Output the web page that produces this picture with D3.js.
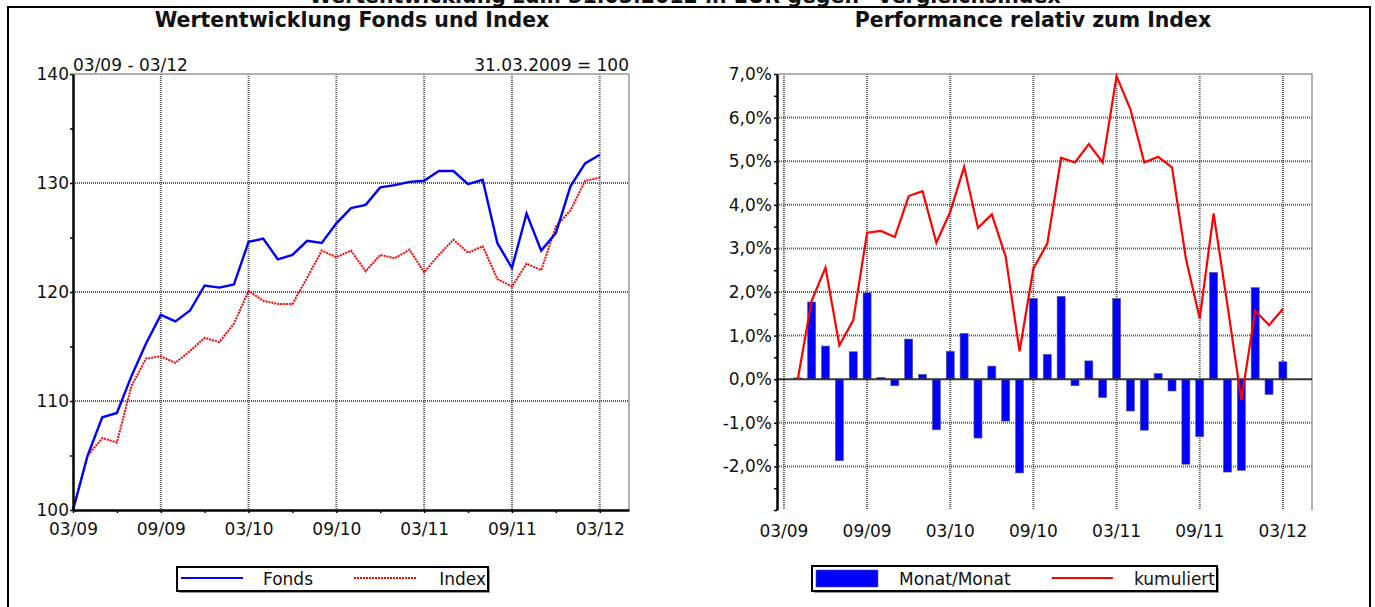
<!DOCTYPE html>
<html lang="de">
    <head>
        <meta charset="utf-8">
        <title>Wertentwicklung Fonds und Index</title>
        <script type="text/javascript" src="https://cdn.jsdelivr.net/npm/d3@7"></script>
        <style type="text/css">
           body { margin: 0; background: #fff; }
           text {
               font-family: "DejaVu Sans", Verdana, sans-serif;
               font-size: 17px;
               fill: #111;
           }
           .title { font-weight: bold; font-size: 20.5px; }
           .grid line { stroke: #5a5a5a; stroke-width: 2; stroke-dasharray: 1,1; }
        </style>
    </head>
    <body>
        <script type="text/javascript">

              var w = 1375;
              var h = 607;

              // monthly values 03/09 .. 03/12
              var xTickLabels = ["03/09", "09/09", "03/10", "09/10", "03/11", "09/11", "03/12"];
              var fonds = [100, 105.0, 108.5, 108.9, 112.3, 115.3, 117.9, 117.3, 118.3, 120.6, 120.4, 120.7,
                           124.6, 124.9, 123.0, 123.4, 124.7, 124.5, 126.3, 127.7, 128.0, 129.6, 129.8, 130.1,
                           130.2, 131.1, 131.1, 129.9, 130.3, 124.5, 122.2, 127.2, 123.8, 125.4, 129.7, 131.8, 132.6];
              var index = [100, 105.0, 106.6, 106.2, 111.4, 113.9, 114.1, 113.5, 114.6, 115.8, 115.4, 117.1,
                           120.1, 119.2, 118.9, 118.9, 121.3, 123.8, 123.2, 123.8, 121.9, 123.4, 123.1, 123.9,
                           121.8, 123.4, 124.8, 123.6, 124.2, 121.2, 120.5, 122.6, 122.0, 126.0, 127.5, 130.2, 130.5];

              // relative performance 04/09 .. 03/12 (in %)
              var monat = [0.03, 1.77, 0.76, -1.87, 0.63, 1.98, 0.04, -0.15, 0.92, 0.11, -1.16, 0.64,
                           1.05, -1.35, 0.30, -0.96, -2.15, 1.85, 0.57, 1.90, -0.15, 0.42, -0.42, 1.85,
                           -0.73, -1.17, 0.13, -0.27, -1.95, -1.32, 2.45, -2.13, -2.09, 2.10, -0.35, 0.40];
              var kumuliert = [0, 1.80, 2.56, 0.78, 1.35, 3.36, 3.40, 3.26, 4.20, 4.31, 3.13, 3.84,
                               4.87, 3.47, 3.78, 2.81, 0.64, 2.54, 3.11, 5.08, 4.97, 5.39, 4.97, 6.95,
                               6.19, 4.97, 5.10, 4.86, 2.77, 1.39, 3.80, 1.70, -0.48, 1.57, 1.24, 1.61];

              var de = d3.formatLocale({decimal: ",", thousands: ".", grouping: [3], currency: ["", " €"], minus: "-"});
              var pct = de.format(".1f");

              var svg = d3.select("body")
                          .append("svg")
                          .attr("width", w)
                          .attr("height", h);

              // outer frame and cut off headline
              svg.append("text")
                 .attr("class", "title")
                 .attr("x", 685).attr("y", 3)
                 .attr("text-anchor", "middle")
                 .text("Wertentwicklung zum 31.03.2012 in EUR gegen* Vergleichsindex");
              svg.append("path")
                 .attr("d", "M8,610 V7 H1370 V610")
                 .attr("fill", "none")
                 .attr("stroke", "#000")
                 .attr("stroke-width", 2);

              // ---------- left chart ----------
              var xL = d3.scaleLinear().domain([0, 38]).range([73, 629]);
              var yL = d3.scaleLinear().domain([100, 140]).range([510, 74]);

              svg.append("text").attr("class", "title")
                 .attr("x", 352).attr("y", 27).attr("text-anchor", "middle")
                 .text("Wertentwicklung Fonds und Index");
              svg.append("text").attr("x", 73).attr("y", 71).text("03/09 - 03/12");
              svg.append("text").attr("x", 629).attr("y", 71).attr("text-anchor", "end").text("31.03.2009 = 100");

              var gridL = svg.append("g").attr("class", "grid");
              gridL.selectAll("line.v")
                   .data(d3.range(6, 37, 6))
                   .enter().append("line")
                   .attr("x1", d => xL(d)).attr("x2", d => xL(d))
                   .attr("y1", yL(140)).attr("y2", yL(100));
              gridL.selectAll("line.h")
                   .data([110, 120, 130])
                   .enter().append("line")
                   .attr("x1", xL(0)).attr("x2", xL(38))
                   .attr("y1", d => yL(d)).attr("y2", d => yL(d));

              svg.append("path")
                 .attr("d", "M" + xL(0) + "," + yL(140) + "H" + xL(38) + "V" + yL(100))
                 .attr("fill", "none").attr("stroke", "#999").attr("stroke-width", 1.5);

              var lineL = d3.line().x((d, i) => xL(i)).y(d => yL(d));
              svg.append("path").datum(index)
                 .attr("d", lineL).attr("fill", "none")
                 .attr("stroke", "#ff0000").attr("stroke-width", 2)
                 .attr("stroke-dasharray", "2,1");
              svg.append("path").datum(fonds)
                 .attr("d", lineL).attr("fill", "none")
                 .attr("stroke", "#0000ff").attr("stroke-width", 2.4);

              var axL = svg.append("g")
                 .attr("transform", "translate(" + xL(0) + ",0)")
                 .call(d3.axisLeft(yL).tickValues(d3.range(100, 141, 5)).tickSize(3).tickSizeOuter(0)
                       .tickPadding(1).tickFormat(d => d % 10 === 0 ? d : ""));
              var axB = svg.append("g")
                 .attr("transform", "translate(0," + yL(100) + ")")
                 .call(d3.axisBottom(xL).tickValues(d3.range(0, 37, 3)).tickSize(3).tickSizeOuter(0)
                       .tickPadding(10).tickFormat(d => d % 6 === 0 ? xTickLabels[d / 6] : ""));
              [axL, axB].forEach(function(a) {
                  a.select(".domain").attr("stroke", "#000").attr("stroke-width", 2.5);
                  a.selectAll(".tick line").attr("stroke", "#000").attr("stroke-width", 1.5);
                  a.selectAll("text").attr("font-size", 17).attr("fill", "#111")
                   .attr("font-family", "DejaVu Sans");
              });

              // legend left
              var legL = svg.append("g");
              legL.append("rect").attr("x", 179).attr("y", 569).attr("width", 311).attr("height", 24).attr("fill", "#999");
              legL.append("rect").attr("x", 177).attr("y", 567).attr("width", 311).attr("height", 24)
                  .attr("fill", "#fff").attr("stroke", "#000").attr("stroke-width", 2);
              legL.append("line").attr("x1", 181).attr("x2", 243).attr("y1", 578).attr("y2", 578)
                  .attr("stroke", "#0000ff").attr("stroke-width", 2);
              legL.append("text").attr("x", 263).attr("y", 585).text("Fonds");
              legL.append("line").attr("x1", 354).attr("x2", 417).attr("y1", 578).attr("y2", 578)
                  .attr("stroke", "#ff0000").attr("stroke-width", 2).attr("stroke-dasharray", "2,1");
              legL.append("text").attr("x", 486).attr("y", 585).attr("text-anchor", "end").text("Index");

              // ---------- right chart ----------
              var xR = d3.scaleLinear().domain([-0.5, 38.1]).range([777, 1312]);
              var yR = d3.scaleLinear().domain([-3, 7]).range([510, 74]);
              var bw = 8;

              svg.append("text").attr("class", "title")
                 .attr("x", 1033).attr("y", 27).attr("text-anchor", "middle")
                 .text("Performance relativ zum Index");

              var gridR = svg.append("g").attr("class", "grid");
              gridR.selectAll("line.v")
                   .data(d3.range(0, 37, 6))
                   .enter().append("line")
                   .attr("x1", d => xR(d)).attr("x2", d => xR(d))
                   .attr("y1", yR(7)).attr("y2", yR(-3));
              gridR.selectAll("line.h")
                   .data([-2, -1, 1, 2, 3, 4, 5, 6])
                   .enter().append("line")
                   .attr("x1", xR(-0.5)).attr("x2", xR(38.1))
                   .attr("y1", d => yR(d)).attr("y2", d => yR(d));

              svg.append("path")
                 .attr("d", "M" + xR(-0.5) + "," + yR(7) + "H" + xR(38.1) + "V" + yR(-3))
                 .attr("fill", "none").attr("stroke", "#999").attr("stroke-width", 1.5);

              svg.selectAll("rect.bar")
                 .data(monat)
                 .enter().append("rect")
                 .attr("class", "bar")
                 .attr("x", (d, i) => xR(i + 1) - bw / 2)
                 .attr("y", d => yR(Math.max(0, d)))
                 .attr("width", bw)
                 .attr("height", d => Math.abs(yR(d) - yR(0)))
                 .attr("fill", "#0000ff")
                 .attr("stroke", "#55558a").attr("stroke-width", 0.6);

              svg.append("line")
                 .attr("x1", xR(-0.5)).attr("x2", xR(38.1))
                 .attr("y1", yR(0)).attr("y2", yR(0))
                 .attr("stroke", "#333").attr("stroke-width", 2);

              var lineR = d3.line().x((d, i) => xR(i + 1)).y(d => yR(d));
              svg.append("path").datum(kumuliert)
                 .attr("d", lineR).attr("fill", "none")
                 .attr("stroke", "#ff0000").attr("stroke-width", 2.2);

              var axR = svg.append("g")
                 .attr("transform", "translate(" + xR(-0.5) + ",0)")
                 .call(d3.axisLeft(yR).tickValues(d3.range(-3, 7.01, 0.5)).tickSize(3).tickSizeOuter(0)
                       .tickPadding(2).tickFormat(d => (Number.isInteger(d) && d > -3) ? pct(d) + "%" : ""));
              axR.select(".domain").attr("stroke", "#000").attr("stroke-width", 2.5);
              axR.selectAll(".tick line").attr("stroke", "#000").attr("stroke-width", 1.5);
              axR.selectAll("text").attr("font-size", 17).attr("fill", "#111").attr("font-family", "DejaVu Sans");

              svg.append("g").selectAll("text")
                 .data(xTickLabels)
                 .enter().append("text")
                 .attr("x", (d, i) => xR(i * 6))
                 .attr("y", 537)
                 .attr("text-anchor", "middle")
                 .text(d => d);

              // legend right
              var legR = svg.append("g");
              legR.append("rect").attr("x", 814).attr("y", 568).attr("width", 405).attr("height", 25).attr("fill", "#999");
              legR.append("rect").attr("x", 812).attr("y", 566).attr("width", 405).attr("height", 25)
                  .attr("fill", "#fff").attr("stroke", "#000").attr("stroke-width", 2);
              legR.append("rect").attr("x", 816).attr("y", 570).attr("width", 62).attr("height", 17)
                  .attr("fill", "#0000ff").attr("stroke", "#55558a").attr("stroke-width", 0.6);
              legR.append("text").attr("x", 899).attr("y", 585).text("Monat/Monat");
              legR.append("line").attr("x1", 1052).attr("x2", 1113).attr("y1", 578).attr("y2", 578)
                  .attr("stroke", "#ff0000").attr("stroke-width", 2);
              legR.append("text").attr("x", 1215).attr("y", 585).attr("text-anchor", "end").text("kumuliert");

        </script>
    </body>
</html>
